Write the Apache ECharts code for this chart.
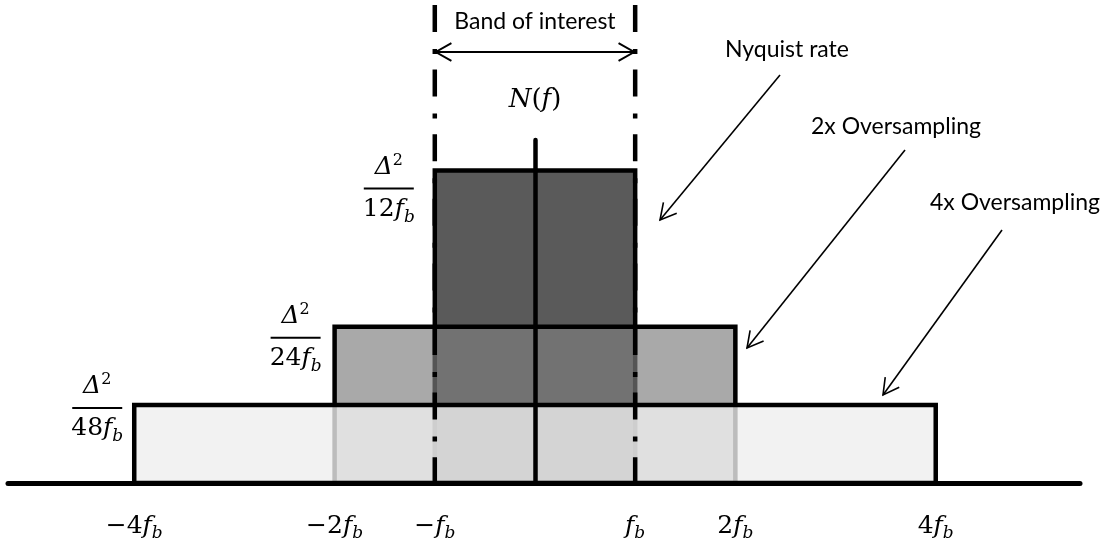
<!DOCTYPE html>
<html>
<head>
<meta charset="utf-8">
<script src="https://cdn.jsdelivr.net/npm/echarts@6/dist/echarts.min.js"></script>
<style>
  html, body { margin: 0; padding: 0; background: #fff; }
  #chart { width: 1109px; height: 550px; }
</style>
</head>
<body>
<div id="chart"></div>
<script>
// Quantization-noise power spectral density N(f) at three sampling rates.
// Frequencies are in units of f_b, densities in units of Δ²/f_b.
const levelNames = ['Nyquist rate', '2x Oversampling', '4x Oversampling'];
const halfBands = [1, 2, 4];                  // spectrum spans ±halfBand·f_b
const noiseDensity = [1 / 12, 1 / 24, 1 / 48]; // flat noise level Δ²/(k·f_b)
const densityDenominators = ['12', '24', '48'];
const bandEdge = 1;                            // band of interest: ±f_b
const tickValues = [-4, -2, -1, 1, 2, 4];
const tickCoefficients = ['\u22124', '\u22122', '\u2212', '', '2', '4'];

// ---- styling -------------------------------------------------------------
const BLACK = '#000';
const EDGE = 4.5;
const MATH = '"DejaVu Serif", "Liberation Serif", serif';
const SANS = 'Lato, "Open Sans", sans-serif';
const fills = ['#5a5a5a', 'rgba(127,127,127,0.67)', 'rgba(238,238,238,0.79)'];
// fraction label placement relative to each block's top-left corner: [gap, drop]
const fractionOffsets = [[21, 18], [14, 11], [12, 3]];
const FRACTION_WIDTH = 50;

const mathRich = {
  n: { fontFamily: MATH, fontSize: 25, lineHeight: 32, color: BLACK },
  f: { fontFamily: MATH, fontSize: 25, lineHeight: 32, fontStyle: 'italic', color: BLACK },
  s: { fontFamily: MATH, fontSize: 17, lineHeight: 17, fontStyle: 'italic', verticalAlign: 'bottom', color: BLACK },
  d: { fontFamily: MATH, fontSize: 25, lineHeight: 30, fontStyle: 'italic', color: BLACK },
  p: { fontFamily: MATH, fontSize: 16, lineHeight: 16, verticalAlign: 'top', color: BLACK }
};

// annotation callouts (pixel layout): label anchor, arrow tail, arrow tip
const calloutLayout = [
  { label: [725, 50], tail: [780, 75], tip: [660, 220] },
  { label: [811, 127], tail: [905, 150], tip: [747, 348] },
  { label: [930, 203], tail: [1002, 230], tip: [883, 395] }
];
const BAND_TOP = 5;
const BAND_ARROW_Y = 52;
const BAND_TITLE_Y = 22;
const NF_LABEL_Y = 100;

function arrowHead(tip, from, len, halfAngle) {
  const a = Math.atan2(from[1] - tip[1], from[0] - tip[0]);
  return [
    [tip[0] + len * Math.cos(a + halfAngle), tip[1] + len * Math.sin(a + halfAngle)],
    [tip[0], tip[1]],
    [tip[0] + len * Math.cos(a - halfAngle), tip[1] + len * Math.sin(a - halfAngle)]
  ];
}

function renderLevel(params, api) {
  const i = params.dataIndex;
  const w = api.value(0), h = api.value(1);
  const tl = api.coord([-w, h]);
  const br = api.coord([w, 0]);
  const [gap, drop] = fractionOffsets[i];
  const barR = tl[0] - gap, barL = barR - FRACTION_WIDTH;
  const barY = tl[1] + drop, cx = (barL + barR) / 2;
  return {
    type: 'group',
    children: [
      {
        type: 'rect', z2: 10 + i,
        shape: { x: tl[0], y: tl[1], width: br[0] - tl[0], height: br[1] - tl[1] },
        style: { fill: fills[i], stroke: BLACK, lineWidth: EDGE }
      },
      {
        type: 'line',
        shape: { x1: barL, y1: barY, x2: barR, y2: barY },
        style: { stroke: BLACK, lineWidth: 2 }
      },
      {
        type: 'text', x: cx, y: barY - 6,
        style: { text: '{d|\u0394}{p|2}', rich: mathRich, align: 'center', verticalAlign: 'bottom' }
      },
      {
        type: 'text', x: cx, y: barY + 5,
        style: { text: '{n|' + densityDenominators[i] + '}{f|f}{s|b}', rich: mathRich, align: 'center', verticalAlign: 'top' }
      }
    ]
  };
}

function renderBand(params, api) {
  const e = api.value(0);
  const L = api.coord([-e, 0]), R = api.coord([e, 0]), C = api.coord([0, 0]);
  const dashStyle = { stroke: BLACK, lineWidth: EDGE, lineDash: [27, 17, 5, 15.6], lineCap: 'butt' };
  const y = BAND_ARROW_Y;
  return {
    type: 'group',
    children: [
      { type: 'line', shape: { x1: L[0], y1: BAND_TOP, x2: L[0], y2: L[1] }, style: dashStyle },
      { type: 'line', shape: { x1: R[0], y1: BAND_TOP, x2: R[0], y2: R[1] }, style: dashStyle },
      { type: 'line', shape: { x1: L[0], y1: y, x2: R[0], y2: y }, style: { stroke: BLACK, lineWidth: 2 } },
      { type: 'polyline', shape: { points: arrowHead([L[0] + 1, y], [R[0], y], 18, 0.52) }, style: { stroke: BLACK, lineWidth: 2, fill: null } },
      { type: 'polyline', shape: { points: arrowHead([R[0] - 1, y], [L[0], y], 18, 0.52) }, style: { stroke: BLACK, lineWidth: 2, fill: null } },
      {
        type: 'text', x: (L[0] + R[0]) / 2, y: BAND_TITLE_Y,
        style: { text: 'Band of interest', font: '23px ' + SANS, fill: BLACK, align: 'center', verticalAlign: 'middle' }
      },
      {
        type: 'text', x: C[0], y: NF_LABEL_Y,
        style: {
          text: '{i|N}{u|(}{i|f}{u|)}', align: 'center', verticalAlign: 'middle',
          rich: {
            i: { fontFamily: MATH, fontSize: 26, fontStyle: 'italic', color: BLACK },
            u: { fontFamily: MATH, fontSize: 26, color: BLACK }
          }
        }
      }
    ]
  };
}

const callouts = [];
levelNames.forEach((name, i) => {
  const c = calloutLayout[i];
  callouts.push({
    type: 'text', x: c.label[0], y: c.label[1],
    style: { text: name, font: '23px ' + SANS, fill: BLACK, align: 'left', verticalAlign: 'middle' }
  });
  callouts.push({
    type: 'line',
    shape: { x1: c.tail[0], y1: c.tail[1], x2: c.tip[0], y2: c.tip[1] },
    style: { stroke: BLACK, lineWidth: 1.6 }
  });
  callouts.push({
    type: 'polyline',
    shape: { points: arrowHead(c.tip, c.tail, 18, 0.5) },
    style: { stroke: BLACK, lineWidth: 1.6, fill: null }
  });
});

const chart = echarts.init(document.getElementById('chart'), null, { renderer: 'canvas' });
chart.setOption({
  animation: false,
  backgroundColor: '#fff',
  grid: { left: 8, right: 29, top: 140, bottom: 67 },
  xAxis: {
    type: 'value', min: -5.26, max: 5.44,
    axisLine: { show: true, onZero: true, lineStyle: { color: BLACK, width: 5 } },
    axisTick: { show: false },
    splitLine: { show: false },
    axisLabel: {
      customValues: tickValues,
      margin: 27,
      formatter: v => {
        const k = tickValues.indexOf(v);
        const coef = tickCoefficients[k];
        return (coef ? '{n|' + coef + '}' : '') + '{f|f}{s|b}';
      },
      rich: mathRich
    }
  },
  yAxis: {
    type: 'value', min: 0, max: 0.0915, z: 6,
    axisLine: { show: true, onZero: true, lineStyle: { color: BLACK, width: EDGE } },
    axisTick: { show: false },
    axisLabel: { show: false },
    splitLine: { show: false }
  },
  series: [
    {
      type: 'custom', name: 'noise', z: 2, clip: false,
      renderItem: renderLevel,
      data: halfBands.map((w, i) => [w, noiseDensity[i]])
    },
    {
      type: 'custom', name: 'band', z: 4, clip: false,
      renderItem: renderBand,
      data: [[bandEdge]]
    }
  ],
  graphic: callouts
});
</script>
</body>
</html>
